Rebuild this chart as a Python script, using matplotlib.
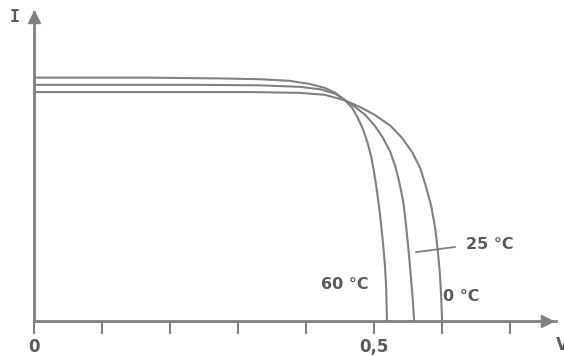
import matplotlib.pyplot as plt

# I-V curves of a solar cell at three temperatures
v_60 = [0, 0.171, 0.274, 0.332, 0.376, 0.406, 0.428, 0.443, 0.457, 0.468,
        0.476, 0.484, 0.490, 0.496, 0.500, 0.504, 0.507, 0.510, 0.513,
        0.516, 0.518, 0.519]
i_60 = [3.04, 3.04, 3.03, 3.02, 3.0, 2.96, 2.91, 2.85, 2.76, 2.66,
        2.54, 2.39, 2.24, 2.05, 1.86, 1.64, 1.45, 1.24, 0.99,
        0.70, 0.39, 0]

v_25 = [0, 0.244, 0.332, 0.391, 0.421, 0.443, 0.457, 0.472, 0.487, 0.501,
        0.513, 0.524, 0.531, 0.537, 0.543, 0.547, 0.551, 0.554, 0.557, 0.559]
i_25 = [2.95, 2.95, 2.944, 2.925, 2.894, 2.838, 2.763, 2.675, 2.575, 2.44,
        2.29, 2.11, 1.94, 1.74, 1.49, 1.2, 0.86, 0.575, 0.26, 0]

v_0 = [0, 0.318, 0.391, 0.428, 0.457, 0.479, 0.501, 0.524, 0.541, 0.556,
       0.568, 0.576, 0.584, 0.590, 0.594, 0.597, 0.599, 0.600]
i_0 = [2.86, 2.86, 2.85, 2.825, 2.756, 2.675, 2.575, 2.44, 2.29, 2.11,
       1.91, 1.69, 1.44, 1.16, 0.86, 0.575, 0.26, 0]

x_ticks = [0, 0.1, 0.2, 0.3, 0.4, 0.5, 0.6, 0.7]
x_labels = ['0', '', '', '', '', '0,5', '', '']

line_c = '#808080'
text_c = '#5a5a5a'
font = 'DejaVu Sans'

fig = plt.figure(figsize=(5.64, 3.56), dpi=100)
ax = fig.add_axes([0.0603, 0.0983, 0.926, 0.868])

for v, i in [(v_60, i_60), (v_25, i_25), (v_0, i_0)]:
    ax.plot(v, i, c=line_c, lw=1.5)

ax.set_xlim(0, 0.768)
ax.set_ylim(0, 3.86)

for side in ['top', 'right']:
    ax.spines[side].set_visible(False)
for side in ['left', 'bottom']:
    ax.spines[side].set_color(line_c)
    ax.spines[side].set_linewidth(2)

# arrow heads
ax.plot(0.755, 0, marker='>', ms=9, c=line_c, clip_on=False)
ax.plot(0, 3.80, marker='^', ms=9, c=line_c, clip_on=False)

ax.set_xticks(x_ticks)
ax.set_xticklabels(x_labels, fontsize=12, color=text_c, family=font,
                   fontweight='bold')
ax.tick_params(axis='x', direction='out', length=9, width=1.5,
               color=line_c, pad=3)
ax.set_yticks([])

# temperature labels
ax.text(0.457, 0.46, '60 °C', fontsize=11.5, color=text_c, family=font,
        fontweight='bold', ha='center', va='center')
ax.text(0.67, 0.96, '25 °C', fontsize=11.5, color=text_c, family=font,
        fontweight='bold', ha='center', va='center')
ax.text(0.628, 0.31, '0 °C', fontsize=11.5, color=text_c, family=font,
        fontweight='bold', ha='center', va='center')
ax.plot([0.562, 0.619], [0.86, 0.925], c=line_c, lw=1.3)

fig.text(15 / 564, 1 - 17 / 356, 'I', fontsize=12, color=text_c,
         family='DejaVu Sans Mono', fontweight='bold', ha='center', va='center')
fig.text(556 / 564, 1 - 345 / 356, 'V', fontsize=12, color=text_c,
         family=font, fontweight='bold', ha='left', va='center')

fig.savefig('out.png', dpi=100)
